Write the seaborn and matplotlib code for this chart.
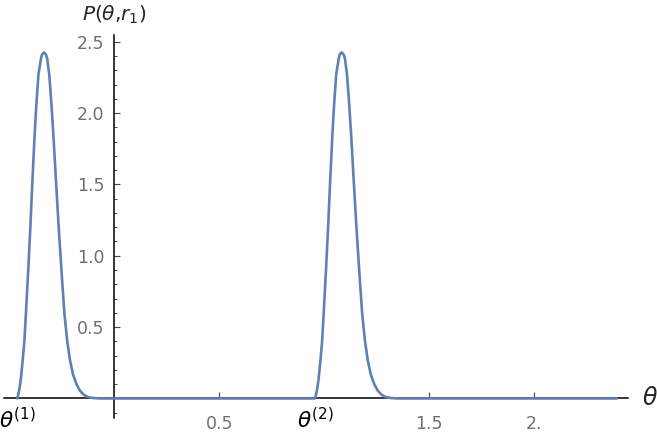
import numpy as np
import pandas as pd
import matplotlib
matplotlib.use("Agg")
import matplotlib.pyplot as plt
import seaborn as sns

# positions of the two special points on the theta axis
theta_1 = -0.462
theta_2 = 0.958

# first peak
peak1_theta = [-0.4619, -0.4581, -0.4524, -0.4453, -0.4358, -0.4281, -0.4205, -0.4096,
               -0.3991, -0.3896, -0.3791, -0.3710, -0.3610, -0.3491, -0.3443, -0.3348,
               -0.3253, -0.3191, -0.3096, -0.2991, -0.2900, -0.2777, -0.2653, -0.2515,
               -0.2377, -0.2238, -0.2110, -0.1967, -0.1800, -0.1634, -0.1443, -0.1253,
               -0.1015, -0.0681]
peak1_p = [0.0, 0.02, 0.06, 0.13, 0.27, 0.40, 0.60, 0.90,
           1.215, 1.53, 1.85, 2.06, 2.27, 2.38, 2.41, 2.425,
           2.41, 2.38, 2.27, 2.06, 1.85, 1.53, 1.215, 0.90,
           0.60, 0.40, 0.27, 0.17, 0.10, 0.055, 0.025, 0.010,
           0.003, 0.0]

# second peak
peak2_theta = [0.9558, 0.9596, 0.9653, 0.9724, 0.9819, 0.9896, 0.9972, 1.0081,
               1.0186, 1.0281, 1.0386, 1.0467, 1.0567, 1.0686, 1.0734, 1.0829,
               1.0924, 1.0986, 1.1081, 1.1186, 1.1277, 1.1400, 1.1524, 1.1662,
               1.1800, 1.1939, 1.2067, 1.2210, 1.2377, 1.2543, 1.2734, 1.2924,
               1.3162, 1.3496]
peak2_p = [0.0, 0.02, 0.06, 0.13, 0.27, 0.40, 0.60, 0.90,
           1.215, 1.53, 1.85, 2.06, 2.27, 2.38, 2.41, 2.425,
           2.41, 2.38, 2.27, 2.06, 1.85, 1.53, 1.215, 0.90,
           0.60, 0.40, 0.27, 0.17, 0.10, 0.055, 0.025, 0.010,
           0.003, 0.0]

theta_end = 2.394

x_ticks = [0.5, 1.5, 2.0]
x_ticklabels = ['0.5', '1.5', '2.']
theta_ticks = [theta_1, theta_2]
theta_ticklabels = [r'$\theta^{(1)}$', r'$\theta^{(2)}$']
y_ticks = [0.5, 1.0, 1.5, 2.0, 2.5]
y_ticklabels = ['0.5', '1.0', '1.5', '2.0', '2.5']

df = pd.DataFrame({
    'theta': peak1_theta + peak2_theta + [theta_end],
    'P': peak1_p + peak2_p + [0.0],
})

sns.set_style("white")
plt.rcParams['font.family'] = ['DejaVu Sans']
plt.rcParams['mathtext.fontset'] = 'dejavusans'

fig = plt.figure(figsize=(6.57, 4.36), dpi=100)
# axes box chosen so the spines land where they are in the picture
ax = fig.add_axes([4 / 657, 18 / 436, 624 / 657, 383 / 436])

sns.lineplot(data=df, x='theta', y='P', sort=False, estimator=None,
             color='#5e81b5', linewidth=1.9, ax=ax, zorder=3)
ax.lines[0].set_solid_joinstyle('round')

ax.set_xlim(-0.525, 2.446)
ax.set_ylim(-0.137, 2.547)

for s in ['top', 'right']:
    ax.spines[s].set_visible(False)
for s in ['left', 'bottom']:
    ax.spines[s].set_position(('data', 0))
    ax.spines[s].set_color('black')
    ax.spines[s].set_linewidth(1.1)

# numbers as major ticks, theta marks as minor ticks so they get their own pad
ax.set_xticks(x_ticks)
ax.set_xticklabels(x_ticklabels)
ax.set_xticks(theta_ticks, minor=True)
ax.set_xticklabels(theta_ticklabels, minor=True)
ax.set_yticks(y_ticks)
ax.set_yticklabels(y_ticklabels)
minor = [v for v in np.round(np.arange(-0.1, 2.55, 0.1), 2) if v not in y_ticks and v != 0]
ax.set_yticks(minor, minor=True)

ax.tick_params(axis='x', which='major', bottom=True, direction='in', length=4,
               width=0.9, color='#555555', pad=12, labelsize=12.5, labelcolor='#707070')
ax.tick_params(axis='x', which='minor', bottom=True, direction='in', length=4,
               width=0.9, color='#888888', pad=6, labelsize=15.5, labelcolor='black')
ax.tick_params(axis='y', which='major', left=True, direction='in', length=4.5,
               width=0.8, color='#444444', pad=7, labelsize=12.5, labelcolor='#707070')
ax.tick_params(axis='y', which='minor', left=True, direction='in', length=2.5,
               width=0.7, color='#444444')

ax.set_xlabel('')
ax.set_ylabel('')
ax.text(2.515, 0.0, r'$\theta$', fontsize=17, ha='left', va='center', clip_on=False)
ax.text(0.0, 2.69, r'$P(\theta{,}r_1)$', fontsize=14.5, ha='center', va='center',
        clip_on=False)

fig.savefig('out.png', dpi=100)
